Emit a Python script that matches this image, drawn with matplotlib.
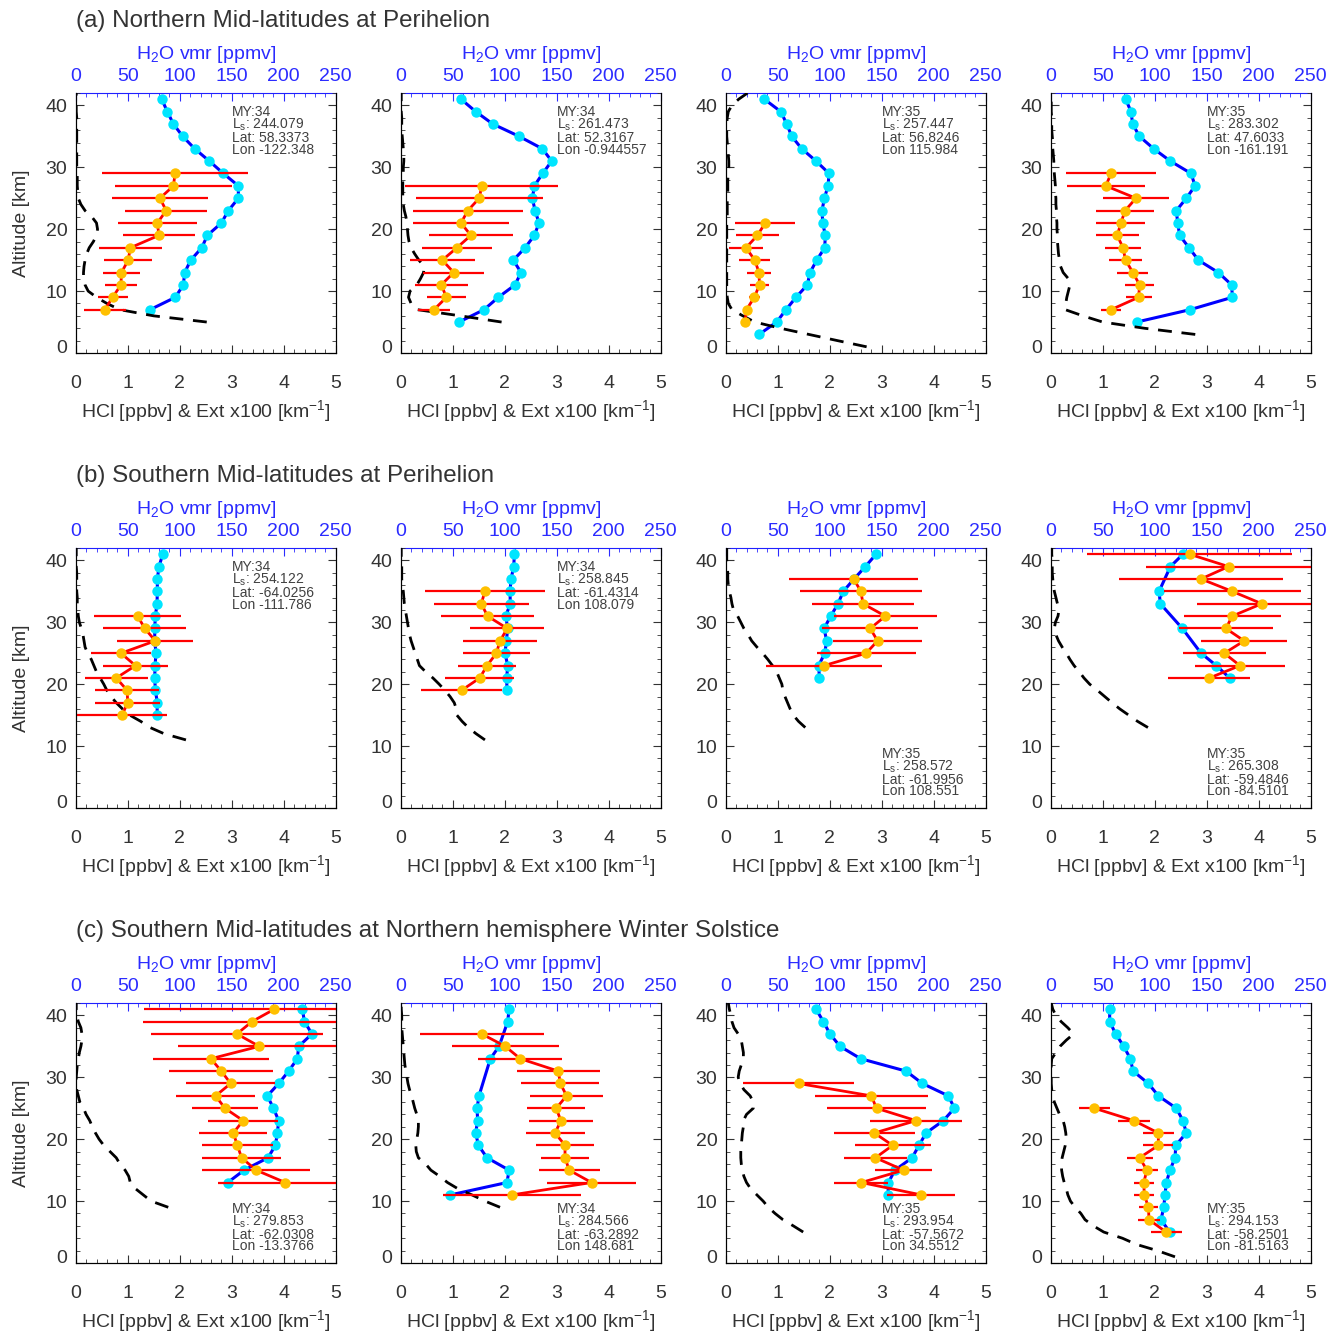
import numpy as np
import matplotlib
matplotlib.use('Agg')
import matplotlib.pyplot as plt
from matplotlib.ticker import MultipleLocator

plt.rcParams['font.family'] = ['Liberation Sans', 'DejaVu Sans']
plt.rcParams['mathtext.fontset'] = 'custom'
plt.rcParams['mathtext.rm'] = 'Liberation Sans'

# ---------------- data ----------------
# (a) Northern mid-latitudes at perihelion
a1_h2o_alt = [41, 39, 37, 35, 33, 31, 29, 27, 25, 23, 21, 19, 17, 15, 13, 11, 9, 7]
a1_h2o = [82.7, 88.1, 93.9, 102.9, 114.4, 128.5, 142.0, 156.4, 156.4, 146.8, 140.1, 126.6,
          121.2, 110.6, 104.8, 103.5, 95.8, 71.5]
a1_hcl_alt = [29, 27, 25, 23, 21, 19, 17, 15, 13, 11, 9, 7]
a1_hcl = [1.91, 1.88, 1.62, 1.74, 1.57, 1.60, 1.05, 1.01, 0.88, 0.87, 0.71, 0.56]
a1_err = [1.40, 1.12, 0.92, 0.79, 0.76, 0.69, 0.61, 0.46, 0.36, 0.30, 0.29, 0.40]
a1_ext_bottom = 5
a1_ext = [2.52, 1.50, 0.85, 0.60, 0.40, 0.24, 0.18, 0.15, 0.15, 0.16, 0.18, 0.21, 0.26, 0.34,
          0.40, 0.42, 0.40, 0.31, 0.18, 0.10, 0.05, 0.04, 0.03, 0.03, 0.03, 0.02, 0.02, 0.02,
          0.02, 0.02, 0.02, 0.02, 0.02, 0.02, 0.01, 0.01, 0.01, 0.01]
a1_info = ['34', '244.079', '58.3373', '-122.348']

a2_h2o_alt = [41, 39, 37, 35, 33, 31, 29, 27, 25, 23, 21, 19, 17, 15, 13, 11, 9, 7, 5]
a2_h2o = [58.0, 72.1, 88.5, 113.8, 136.2, 145.2, 136.5, 128.5, 126.6, 129.2, 133.0, 128.5,
          119.6, 108.3, 115.7, 109.9, 93.9, 80.1, 56.1]
a2_hcl_alt = [27, 25, 23, 21, 19, 17, 15, 13, 11, 9, 7]
a2_hcl = [1.56, 1.51, 1.29, 1.16, 1.35, 1.08, 0.80, 1.02, 0.78, 0.88, 0.64]
a2_err = [1.47, 1.22, 1.06, 0.92, 0.81, 0.68, 0.63, 0.59, 0.51, 0.38, 0.30]
a2_ext_bottom = 5
a2_ext = [1.94, 1.15, 0.32, 0.20, 0.15, 0.18, 0.31, 0.38, 0.44, 0.45, 0.35, 0.27, 0.20, 0.16,
          0.14, 0.13, 0.12, 0.10, 0.07, 0.05, 0.04, 0.04, 0.04, 0.04, 0.05, 0.05, 0.06, 0.06,
          0.05, 0.04, 0.03, 0.02, 0.02, 0.02, 0.01, 0.01, 0.01, 0.01]
a2_info = ['34', '261.473', '52.3167', '-0.944557']

a3_h2o_alt = [41, 39, 37, 35, 33, 31, 29, 27, 25, 23, 21, 19, 17, 15, 13, 11, 9, 7, 5, 3]
a3_h2o = [37.2, 52.9, 58.7, 63.5, 73.1, 86.9, 99.4, 98.4, 94.9, 92.6, 93.3, 95.8, 95.2, 87.5,
          81.1, 78.5, 67.6, 58.0, 49.0, 32.1]
a3_hcl_alt = [21, 19, 17, 15, 13, 11, 9, 7, 5]
a3_hcl = [0.76, 0.61, 0.39, 0.56, 0.64, 0.65, 0.55, 0.40, 0.37]
a3_err = [0.58, 0.42, 0.33, 0.30, 0.24, 0.19, 0.11, 0.05, 0.05]
a3_ext_bottom = 1
a3_ext = [2.71, 2.15, 1.60, 1.05, 0.56, 0.33, 0.12, 0.05, 0.03, 0.02, 0.02, 0.02, 0.02, 0.02,
          0.02, 0.02, 0.02, 0.02, 0.02, 0.02, 0.02, 0.03, 0.03, 0.03, 0.03, 0.04, 0.04, 0.04,
          0.05, 0.06, 0.06, 0.05, 0.04, 0.03, 0.02, 0.02, 0.02, 0.03, 0.05, 0.12, 0.25, 0.42]
a3_info = ['35', '257.447', '56.8246', '115.984']

a4_h2o_alt = [41, 39, 37, 35, 33, 31, 29, 27, 25, 23, 21, 19, 17, 15, 13, 11, 9, 7, 5]
a4_h2o = [72.1, 77.2, 78.8, 85.3, 99.0, 115.1, 135.0, 138.8, 130.4, 120.8, 122.1, 124.0,
          133.0, 142.0, 161.2, 174.0, 174.7, 134.0, 82.7]
a4_hcl_alt = [29, 27, 25, 23, 21, 19, 17, 15, 13, 11, 9, 7]
a4_hcl = [1.16, 1.06, 1.64, 1.43, 1.35, 1.28, 1.39, 1.44, 1.58, 1.71, 1.69, 1.16]
a4_err = [0.86, 0.75, 0.64, 0.56, 0.47, 0.41, 0.35, 0.32, 0.30, 0.28, 0.25, 0.19]
a4_ext_bottom = 3
a4_ext = [2.78, 1.80, 1.00, 0.62, 0.28, 0.29, 0.31, 0.34, 0.37, 0.34, 0.24, 0.19, 0.17, 0.15,
          0.14, 0.13, 0.13, 0.12, 0.12, 0.11, 0.11, 0.10, 0.10, 0.09, 0.09, 0.08, 0.07, 0.06,
          0.06, 0.05, 0.04, 0.04, 0.03, 0.02, 0.02, 0.02, 0.01, 0.01, 0.01, 0.01]
a4_info = ['35', '283.302', '47.6033', '-161.191']

# (b) Southern mid-latitudes at perihelion
b1_h2o_alt = [41, 39, 37, 35, 33, 31, 29, 27, 25, 23, 21, 19, 17, 15]
b1_h2o = [83.7, 80.1, 78.5, 78.5, 78.2, 76.6, 76.0, 76.0, 77.2, 76.3, 76.0, 76.6, 78.5, 78.2]
b1_hcl_alt = [31, 29, 27, 25, 23, 21, 19, 17, 15]
b1_hcl = [1.19, 1.33, 1.53, 0.87, 1.15, 0.78, 0.99, 1.00, 0.89]
b1_err = [0.83, 0.80, 0.73, 0.58, 0.62, 0.61, 0.61, 0.62, 0.87]
b1_ext_bottom = 11
b1_ext = [2.12, 1.70, 1.43, 1.25, 1.04, 0.90, 0.78, 0.68, 0.60, 0.54, 0.47, 0.40, 0.35, 0.30,
          0.23, 0.18, 0.16, 0.14, 0.11, 0.07, 0.05, 0.04, 0.03, 0.03, 0.02, 0.02, 0.02, 0.02,
          0.01, 0.01, 0.01, 0.01]
b1_info = ['34', '254.122', '-64.0256', '-111.786']

b2_h2o_alt = [41, 39, 37, 35, 33, 31, 29, 27, 25, 23, 21, 19]
b2_h2o = [109.3, 108.7, 106.1, 105.1, 105.4, 101.0, 102.9, 101.6, 100.3, 102.9, 101.9, 102.2]
b2_hcl_alt = [35, 33, 31, 29, 27, 25, 23, 21, 19]
b2_hcl = [1.62, 1.55, 1.67, 2.05, 1.91, 1.84, 1.66, 1.52, 1.17]
b2_err = [1.15, 0.91, 0.89, 0.71, 0.72, 0.64, 0.55, 0.66, 0.78]
b2_ext_bottom = 11
b2_ext = [1.62, 1.45, 1.30, 1.18, 1.08, 1.07, 1.03, 0.95, 0.85, 0.74, 0.62, 0.48, 0.36, 0.32,
          0.28, 0.24, 0.20, 0.17, 0.15, 0.13, 0.11, 0.09, 0.07, 0.06, 0.05, 0.03, 0.02, 0.02,
          0.02, 0.01, 0.01, 0.01]
b2_info = ['34', '258.845', '-61.4314', '108.079']

b3_h2o_alt = [41, 39, 37, 35, 33, 31, 29, 27, 25, 23, 21]
b3_h2o = [144.6, 134.3, 123.4, 113.1, 108.0, 101.0, 94.6, 97.1, 95.2, 89.4, 90.1]
b3_hcl_alt = [37, 35, 33, 31, 29, 27, 25, 23]
b3_hcl = [2.46, 2.60, 2.64, 3.07, 2.78, 2.92, 2.70, 1.89]
b3_err = [1.24, 1.17, 0.98, 0.99, 0.92, 0.86, 0.95, 1.11]
b3_ext_bottom = 13
b3_ext = [1.53, 1.40, 1.30, 1.24, 1.19, 1.14, 1.10, 1.08, 1.03, 0.98, 0.90, 0.81, 0.71, 0.60,
          0.50, 0.43, 0.35, 0.29, 0.23, 0.15, 0.12, 0.10, 0.07, 0.05, 0.04, 0.04, 0.03, 0.02,
          0.02, 0.02]
b3_info = ['35', '258.572', '-61.9956', '108.551']

b4_h2o_alt = [41, 39, 35, 33, 29, 25, 23, 21]
b4_h2o = [127.2, 115.1, 104.2, 105.4, 126.6, 144.6, 159.3, 172.1]
b4_hcl_alt = [41, 39, 37, 35, 33, 31, 29, 27, 25, 23, 21]
b4_hcl = [2.67, 3.42, 2.89, 3.49, 4.06, 3.49, 3.37, 3.72, 3.34, 3.64, 3.05]
b4_err = [1.97, 1.58, 1.57, 1.32, 1.24, 0.93, 0.91, 0.83, 0.80, 0.86, 0.79]
b4_ext_bottom = 13
b4_ext = [1.87, 1.67, 1.50, 1.33, 1.18, 1.04, 0.90, 0.75, 0.64, 0.55, 0.45, 0.37, 0.30, 0.22,
          0.15, 0.10, 0.07, 0.09, 0.14, 0.16, 0.13, 0.10, 0.07, 0.05, 0.04, 0.03, 0.03, 0.03,
          0.02, 0.02]
b4_info = ['35', '265.308', '-59.4846', '-84.5101']

# (c) Southern mid-latitudes at northern hemisphere winter solstice
c1_h2o_alt = [41, 39, 37, 35, 33, 31, 29, 27, 25, 23, 21, 19, 17, 15, 13]
c1_h2o = [218.0, 219.9, 227.2, 214.4, 213.1, 204.8, 195.2, 184.3, 190.1, 195.2, 193.9,
          192.0, 184.9, 161.9, 146.2]
c1_hcl_alt = [41, 39, 37, 35, 33, 31, 29, 27, 25, 23, 21, 19, 17, 15, 13]
c1_hcl = [3.82, 3.39, 3.10, 3.53, 2.60, 2.80, 2.98, 2.69, 2.87, 3.22, 3.03, 3.11, 3.19, 3.47, 4.03]
c1_err = [2.50, 2.10, 1.66, 1.57, 1.11, 1.00, 0.85, 0.76, 0.64, 0.67, 0.65, 0.69, 0.76, 1.04, 1.30]
c1_ext_bottom = 9
c1_ext = [1.78, 1.45, 1.30, 1.15, 1.05, 1.02, 0.95, 0.85, 0.78, 0.66, 0.54, 0.45, 0.38, 0.32,
          0.27, 0.20, 0.15, 0.08, 0.05, 0.02, 0.01, 0.01, 0.02, 0.03, 0.05, 0.07, 0.10, 0.12,
          0.12, 0.10, 0.05, 0.02, 0.01, 0.01]
c1_info = ['34', '279.853', '-62.0308', '-13.3766']

c2_h2o_alt = [41, 39, 35, 33, 27, 25, 23, 21, 19, 17, 15, 13, 11]
c2_h2o = [104.2, 102.9, 94.6, 86.2, 75.3, 73.4, 74.0, 72.1, 74.7, 83.0, 104.2, 102.2, 47.8]
c2_hcl_alt = [37, 35, 33, 31, 29, 27, 25, 23, 21, 19, 17, 15, 13, 11]
c2_hcl = [1.56, 2.01, 2.30, 3.03, 3.07, 3.19, 2.99, 3.08, 2.97, 3.16, 3.16, 3.24, 3.67, 2.14]
c2_err = [1.19, 1.03, 0.81, 0.80, 0.75, 0.70, 0.56, 0.62, 0.57, 0.55, 0.46, 0.59, 0.86, 1.32]
c2_ext_bottom = 9
c2_ext = [1.91, 1.62, 1.37, 1.10, 0.90, 0.75, 0.58, 0.48, 0.34, 0.30, 0.29, 0.31, 0.33, 0.34,
          0.34, 0.31, 0.27, 0.24, 0.21, 0.17, 0.14, 0.12, 0.10, 0.08, 0.07, 0.06, 0.05, 0.04,
          0.03, 0.02, 0.02, 0.02, 0.01, 0.01]
c2_info = ['34', '284.566', '-63.2892', '148.681']

c3_h2o_alt = [41, 39, 37, 35, 33, 31, 29, 27, 25, 23, 21, 19, 17, 15, 13, 11]
c3_h2o = [86.9, 93.9, 100.3, 109.9, 129.8, 173.4, 189.1, 214.1, 219.9, 209.3, 192.6, 185.9,
          179.2, 162.8, 156.4, 156.1]
c3_hcl_alt = [29, 27, 25, 23, 21, 19, 17, 15, 13, 11]
c3_hcl = [1.40, 2.80, 2.90, 3.66, 2.86, 3.21, 2.88, 3.42, 2.61, 3.76]
c3_err = [1.06, 1.09, 0.95, 0.88, 0.78, 0.73, 0.60, 0.55, 0.52, 0.65]
c3_ext_bottom = 5
c3_ext = [1.49, 1.30, 1.10, 0.95, 0.82, 0.72, 0.60, 0.48, 0.40, 0.35, 0.32, 0.30, 0.29, 0.29,
          0.30, 0.31, 0.32, 0.34, 0.34, 0.40, 0.53, 0.53, 0.47, 0.35, 0.28, 0.24, 0.26, 0.30,
          0.34, 0.34, 0.32, 0.30, 0.24, 0.16, 0.12, 0.10, 0.07, 0.05]
c3_info = ['35', '293.954', '-57.5672', '34.5512']

c4_h2o_alt = [41, 39, 37, 35, 33, 31, 29, 27, 25, 23, 21, 19, 17, 15, 13, 11, 9, 7, 5]
c4_h2o = [56.7, 56.7, 62.5, 70.2, 76.6, 79.2, 93.9, 103.5, 120.8, 127.2, 130.4, 120.2,
          119.6, 114.7, 111.2, 109.9, 108.7, 106.1, 114.4]
c4_hcl_alt = [25, 23, 21, 19, 17, 15, 13, 11, 9, 7, 5]
c4_hcl = [0.84, 1.60, 2.07, 2.07, 1.71, 1.85, 1.79, 1.80, 1.88, 1.89, 2.22]
c4_err = [0.30, 0.31, 0.30, 0.29, 0.25, 0.21, 0.19, 0.19, 0.19, 0.22, 0.30]
c4_ext_bottom = 1
c4_ext = [2.39, 2.05, 1.65, 1.38, 1.02, 0.82, 0.66, 0.58, 0.47, 0.38, 0.33, 0.30, 0.26, 0.23,
          0.21, 0.21, 0.22, 0.25, 0.28, 0.30, 0.29, 0.27, 0.24, 0.17, 0.12, 0.07, 0.04, 0.02,
          0.01, 0.01, 0.01, 0.01, 0.02, 0.10, 0.18, 0.30, 0.44, 0.33, 0.20, 0.10, 0.04, 0.01]
c4_info = ['35', '294.153', '-58.2501', '-81.5163']

row_titles = ['(a) Northern Mid-latitudes at Perihelion',
              '(b) Southern Mid-latitudes at Perihelion',
              '(c) Southern Mid-latitudes at Northern hemisphere Winter Solstice']

panels = [
    (a1_h2o_alt, a1_h2o, a1_hcl_alt, a1_hcl, a1_err, a1_ext_bottom, a1_ext, a1_info, 'top'),
    (a2_h2o_alt, a2_h2o, a2_hcl_alt, a2_hcl, a2_err, a2_ext_bottom, a2_ext, a2_info, 'top'),
    (a3_h2o_alt, a3_h2o, a3_hcl_alt, a3_hcl, a3_err, a3_ext_bottom, a3_ext, a3_info, 'top'),
    (a4_h2o_alt, a4_h2o, a4_hcl_alt, a4_hcl, a4_err, a4_ext_bottom, a4_ext, a4_info, 'top'),
    (b1_h2o_alt, b1_h2o, b1_hcl_alt, b1_hcl, b1_err, b1_ext_bottom, b1_ext, b1_info, 'top'),
    (b2_h2o_alt, b2_h2o, b2_hcl_alt, b2_hcl, b2_err, b2_ext_bottom, b2_ext, b2_info, 'top'),
    (b3_h2o_alt, b3_h2o, b3_hcl_alt, b3_hcl, b3_err, b3_ext_bottom, b3_ext, b3_info, 'bottom'),
    (b4_h2o_alt, b4_h2o, b4_hcl_alt, b4_hcl, b4_err, b4_ext_bottom, b4_ext, b4_info, 'bottom'),
    (c1_h2o_alt, c1_h2o, c1_hcl_alt, c1_hcl, c1_err, c1_ext_bottom, c1_ext, c1_info, 'bottom'),
    (c2_h2o_alt, c2_h2o, c2_hcl_alt, c2_hcl, c2_err, c2_ext_bottom, c2_ext, c2_info, 'bottom'),
    (c3_h2o_alt, c3_h2o, c3_hcl_alt, c3_hcl, c3_err, c3_ext_bottom, c3_ext, c3_info, 'bottom'),
    (c4_h2o_alt, c4_h2o, c4_hcl_alt, c4_hcl, c4_err, c4_ext_bottom, c4_ext, c4_info, 'bottom'),
]

# ---------------- layout / style ----------------
W, H = 1338, 1333
col_left = [75.7, 400.7, 725.7, 1050.7]
row_top = [93, 548, 1003]
AW, AH = 260, 260
TXT = '#333333'
BLUE_TXT = '#2b2bff'
CYAN = '#00e5ff'
ORANGE = '#ffc000'

fig = plt.figure(figsize=(W / 100, H / 100), dpi=100)

for r in range(3):
    fig.text(col_left[0] / W, 1 - (row_top[r] - 72) / H, row_titles[r], fontsize=17.4,
             color=TXT, ha='left', va='center')

for i, (h_alt, h2o, c_alt, hcl, err, ext_bot, ext, info, where) in enumerate(panels):
    r, c = divmod(i, 4)
    ax = fig.add_axes([col_left[c] / W, 1 - (row_top[r] + AH) / H, AW / W, AH / H])
    ax2 = ax.twiny()
    ax.set_zorder(ax2.get_zorder() + 1)
    ax.patch.set_visible(False)

    # water vapour on the top axis
    ax2.plot(h2o, h_alt, '-o', color='#0000ff', lw=2.2, ms=7.5,
             mfc=CYAN, mec=CYAN, mew=0)
    ax2.set_xlim(0, 250)
    ax2.xaxis.set_major_locator(MultipleLocator(50))
    ax2.xaxis.set_minor_locator(MultipleLocator(10))
    ax2.tick_params(which='both', direction='in', top=True, bottom=False,
                    colors=BLUE_TXT, labelsize=14, pad=5.5)
    ax2.tick_params(which='major', length=6)
    ax2.tick_params(which='minor', length=3)
    ax2.spines['top'].set_color('#2020ff')
    ax2.set_xlabel('H$_{\\mathregular{2}}$O vmr [ppmv]', color=BLUE_TXT, fontsize=14,
                   labelpad=6.5)

    # extinction and HCl on the bottom axis
    ext_alt = ext_bot + np.arange(len(ext))
    ax.plot(ext, ext_alt, color='black', lw=2, ls=(0, (5, 3.5)))
    ax.errorbar(hcl, c_alt, xerr=err, fmt='none', ecolor='#ff0000', elinewidth=1.6)
    ax.plot(hcl, c_alt, '-o', color='#ff0000', lw=2, ms=7.5, mfc=ORANGE, mec=ORANGE, mew=0)

    ax.set_xlim(0, 5)
    ax.set_ylim(0, 42)
    ax.set_xticks([0, 1, 2, 3, 4, 5])
    ax.set_yticks([0, 10, 20, 30, 40])
    ax.xaxis.set_minor_locator(MultipleLocator(0.2))
    ax.yaxis.set_minor_locator(MultipleLocator(2))
    ax.tick_params(which='both', direction='in', top=False, right=True,
                   colors=TXT, labelsize=14)
    ax.tick_params(which='major', length=6)
    ax.tick_params(which='minor', length=3)
    ax.tick_params(axis='x', pad=15.5)
    ax.tick_params(axis='y', pad=6)
    ax.get_yticklabels()[0].set_verticalalignment('baseline')
    ax.spines['top'].set_visible(False)
    for s in ['left', 'right', 'bottom']:
        ax.spines[s].set_color('black')
    ax.set_xlabel('HCl [ppbv] & Ext x100 [km$^{\\mathregular{-1}}$]', fontsize=14,
                  color=TXT, labelpad=5)
    if c == 0:
        ax.set_ylabel('Altitude [km]', fontsize=14, color=TXT, labelpad=11)

    # orbit / location block, one text object with tight line spacing
    block = '\n'.join(['MY:' + info[0], 'L$_{\\mathregular{s}}$: ' + info[1],
                       'Lat: ' + info[2], 'Lon ' + info[3]])
    if where == 'top':
        ax.text(0.60, 1 - 12 / AH, block, transform=ax.transAxes, fontsize=10,
                color='#404040', ha='left', va='top', linespacing=0.8)
    else:
        ax.text(0.60, 9.5 / AH, block, transform=ax.transAxes, fontsize=10,
                color='#404040', ha='left', va='bottom', linespacing=0.8)

fig.savefig('out.png', dpi=100)
